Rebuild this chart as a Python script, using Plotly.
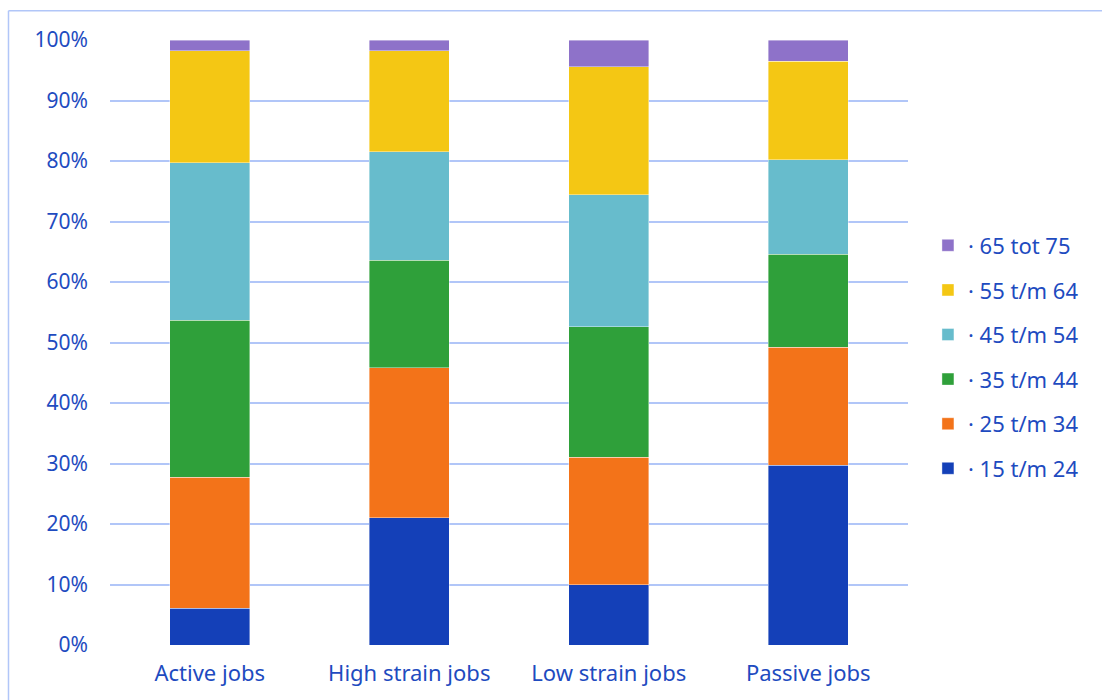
import plotly.graph_objects as go

# Share of workers per age group, by job type (percent)
categories = ["Active jobs", "High strain jobs", "Low strain jobs", "Passive jobs"]

age_15_24 = [6.1, 21.0, 10.0, 29.7]
age_25_34 = [21.6, 24.8, 21.0, 19.5]
age_35_44 = [26.0, 17.8, 21.6, 15.4]
age_45_54 = [26.0, 17.9, 21.8, 15.6]
age_55_64 = [18.5, 16.7, 21.2, 16.3]
age_65_75 = [1.8, 1.8, 4.4, 3.5]

y_ticks = [0, 10, 20, 30, 40, 50, 60, 70, 80, 90, 100]
y_tick_labels = [f"{v}%" for v in y_ticks]

series = [
    ("· 15 t/m 24", age_15_24, "#1440B8"),
    ("· 25 t/m 34", age_25_34, "#F37319"),
    ("· 35 t/m 44", age_35_44, "#2FA03A"),
    ("· 45 t/m 54", age_45_54, "#67BCCC"),
    ("· 55 t/m 64", age_55_64, "#F4C714"),
    ("· 65 tot 75", age_65_75, "#8E72C9"),
]

text_color = "#1E4BC0"
grid_color = "#B1C6F8"
font_family = "Noto Sans, Open Sans, sans-serif"

fig = go.Figure()
for i, (name, vals, color) in enumerate(series):
    fig.add_trace(go.Bar(
        x=categories,
        y=vals,
        name=name,
        legendgroup=f"g{i}",
        legendrank=1000 - i,  # oldest age group listed first
        marker=dict(color=color, line=dict(color="rgba(255,255,255,0.5)", width=0.8)),
    ))

fig.update_layout(
    width=1102,
    height=700,
    barmode="stack",
    bargap=0.6,
    plot_bgcolor="white",
    paper_bgcolor="white",
    margin=dict(l=110, r=194, t=40, b=55, autoexpand=False),
    font=dict(family=font_family, color=text_color, size=21),
    showlegend=True,
    legend=dict(
        traceorder="grouped",
        tracegroupgap=13,
        x=1.025,
        xanchor="left",
        y=0.476,
        yanchor="middle",
        font=dict(size=22, color=text_color),
        bgcolor="rgba(0,0,0,0)",
    ),
    xaxis=dict(
        showgrid=False,
        showline=False,
        ticks="",
        tickfont=dict(size=22, color=text_color),
        ticklabelstandoff=13,
    ),
    yaxis=dict(
        range=[0, 100],
        tickmode="array",
        tickvals=y_ticks,
        ticktext=y_tick_labels,
        showgrid=True,
        gridcolor=grid_color,
        gridwidth=1.5,
        zeroline=False,
        showline=False,
        ticks="",
        tickfont=dict(size=21, color=text_color),
        ticklabelstandoff=21,
    ),
    shapes=[
        # frame around the chart (top and left edges)
        dict(type="line", xref="paper", yref="paper",
             x0=-0.1272, x1=1.3, y0=1.0483, y1=1.0483,
             line=dict(color=grid_color, width=1.5)),
        dict(type="line", xref="paper", yref="paper",
             x0=-0.1272, x1=-0.1272, y0=1.0483, y1=-0.2,
             line=dict(color=grid_color, width=1.5)),
    ],
)

fig.write_html("out.html")
